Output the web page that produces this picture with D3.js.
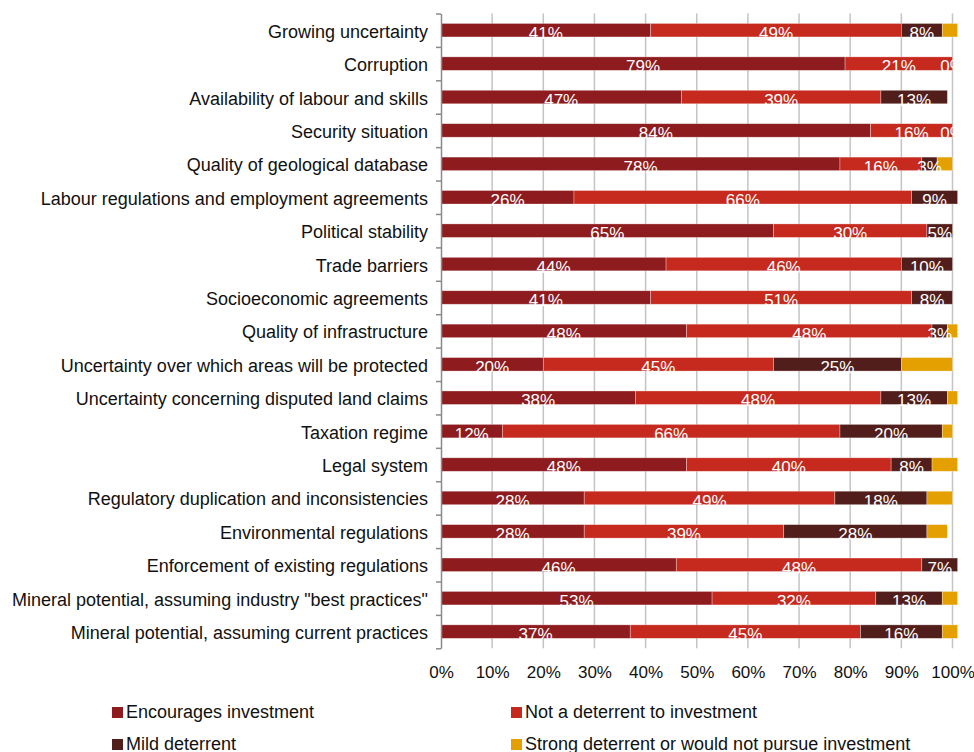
<!DOCTYPE html>
<html>
<head>
<meta charset="utf-8">
<script src="https://cdn.jsdelivr.net/npm/d3@7"></script>
<style>
  html, body { margin: 0; padding: 0; background: #fff; }
  svg { display: block; font-family: "Liberation Sans", Arial, sans-serif; }
</style>
</head>
<body>
<svg id="chart" width="974" height="752"></svg>
<script>
// Survey factors, listed top to bottom
const categories = [
  "Growing uncertainty",
  "Corruption",
  "Availability of labour and skills",
  "Security situation",
  "Quality of geological database",
  "Labour regulations and employment agreements",
  "Political stability",
  "Trade barriers",
  "Socioeconomic agreements",
  "Quality of infrastructure",
  "Uncertainty over which areas will be protected",
  "Uncertainty concerning disputed land claims",
  "Taxation regime",
  "Legal system",
  "Regulatory duplication and inconsistencies",
  "Environmental regulations",
  "Enforcement of existing regulations",
  "Mineral potential, assuming industry \"best practices\"",
  "Mineral potential, assuming current practices"
];

// Share of respondents (%) per answer
const encourages   = [41, 79, 47, 84, 78, 26, 65, 44, 41, 48, 20, 38, 12, 48, 28, 28, 46, 53, 37];
const notDeterrent = [49, 21, 39, 16, 16, 66, 30, 46, 51, 48, 45, 48, 66, 40, 49, 39, 48, 32, 45];
const mildDeterrent = [8, 0, 13, 0, 3, 9, 5, 10, 8, 3, 25, 13, 20, 8, 18, 28, 7, 13, 16];
const strongDeterrent = [3, 0, 0, 0, 3, 0, 0, 0, 0, 2, 10, 2, 2, 5, 5, 4, 0, 3, 3];

const seriesNames = [
  "Encourages investment",
  "Not a deterrent to investment",
  "Mild deterrent",
  "Strong deterrent or would not pursue investment"
];
const seriesColors = ["#8e1b1e", "#c6291d", "#521e1b", "#e3a000"];
// Series whose segments carry a value label
const labelled = [true, true, true, false];

const xTicks = [0, 10, 20, 30, 40, 50, 60, 70, 80, 90, 100];

const rows = categories.map((c, i) => ({
  category: c,
  s0: encourages[i],
  s1: notDeterrent[i],
  s2: mildDeterrent[i],
  s3: strongDeterrent[i]
}));
const keys = ["s0", "s1", "s2", "s3"];
const stacked = d3.stack().keys(keys)(rows);

const svg = d3.select("#chart");
const plotLeft = 441, plotRight = 952.5, plotTop = 13.5, plotBottom = 648.3;

const x = d3.scaleLinear().domain([0, 100]).range([plotLeft, plotRight]);
const y = d3.scaleBand().domain(categories).range([plotTop, plotBottom]).paddingInner(0.596).paddingOuter(0.298);
const yEdge = d3.scaleLinear().domain([0, categories.length]).range([plotTop, plotBottom]);

// Vertical gridlines
svg.append("g")
  .selectAll("line")
  .data(xTicks.filter(t => t > 0))
  .join("line")
  .attr("x1", d => x(d)).attr("x2", d => x(d))
  .attr("y1", plotTop).attr("y2", plotBottom)
  .attr("stroke", "#c4c4c4")
  .attr("stroke-width", 1.5);

// Stacked bars
const layers = svg.append("g")
  .selectAll("g")
  .data(stacked)
  .join("g")
  .attr("fill", (d, i) => seriesColors[i]);

layers.selectAll("rect")
  .data(d => d.filter(p => p[1] - p[0] > 0))
  .join("rect")
  .attr("x", d => x(d[0]))
  .attr("width", d => x(d[1]) - x(d[0]))
  .attr("y", d => y(d.data.category))
  .attr("height", y.bandwidth())
  .attr("stroke", "rgba(255,255,255,0.45)")
  .attr("stroke-width", 0.7);

// Value labels inside segments
const labelGroup = svg.append("g")
  .attr("fill", "#fff")
  .attr("font-size", 17)
  .attr("text-anchor", "middle");

stacked.forEach((layer, i) => {
  if (!labelled[i]) return;
  labelGroup.selectAll(null)
    .data(layer)
    .join("text")
    .attr("x", d => x((d[0] + d[1]) / 2))
    .attr("y", d => y(d.data.category) + y.bandwidth() + 2)
    .text(d => (d[1] - d[0]) + "%");
});

// Left axis with ticks between categories
const yAxis = d3.axisLeft(yEdge)
  .tickValues(d3.range(categories.length + 1))
  .tickFormat("")
  .tickSize(5)
  .tickSizeOuter(0);
const yAxisG = svg.append("g")
  .attr("transform", `translate(${plotLeft},0)`)
  .call(yAxis);
yAxisG.selectAll("path, line").attr("stroke", "#8a8a8a").attr("stroke-width", 1.5);

// Category labels
svg.append("g")
  .attr("font-size", 18)
  .attr("text-anchor", "end")
  .attr("fill", "#111")
  .selectAll("text")
  .data(categories)
  .join("text")
  .attr("x", 428)
  .attr("y", d => y(d) + y.bandwidth() / 2 + 7.5)
  .text(d => d);

// Bottom axis: percentage labels only
const xAxis = d3.axisBottom(x)
  .tickValues(xTicks)
  .tickFormat(d => d + "%")
  .tickSize(0)
  .tickPadding(17.7);
const xAxisG = svg.append("g")
  .attr("transform", `translate(0,${plotBottom})`)
  .call(xAxis);
xAxisG.select(".domain").remove();
xAxisG.selectAll("text")
  .attr("font-size", 17)
  .attr("font-family", "\"Liberation Sans\", Arial, sans-serif")
  .attr("fill", "#111");

// Legend
const legendPos = [
  { x: 112, y: 718 },
  { x: 511, y: 718 },
  { x: 112, y: 750 },
  { x: 511, y: 750 }
];
const legend = svg.append("g")
  .selectAll("g")
  .data(seriesNames)
  .join("g")
  .attr("transform", (d, i) => `translate(${legendPos[i].x},${legendPos[i].y})`);
legend.append("rect")
  .attr("x", 0).attr("y", -11)
  .attr("width", 11).attr("height", 11)
  .attr("fill", (d, i) => seriesColors[i]);
legend.append("text")
  .attr("x", 14).attr("y", 0)
  .attr("font-size", 18)
  .attr("fill", "#111")
  .text(d => d);
</script>
</body>
</html>
